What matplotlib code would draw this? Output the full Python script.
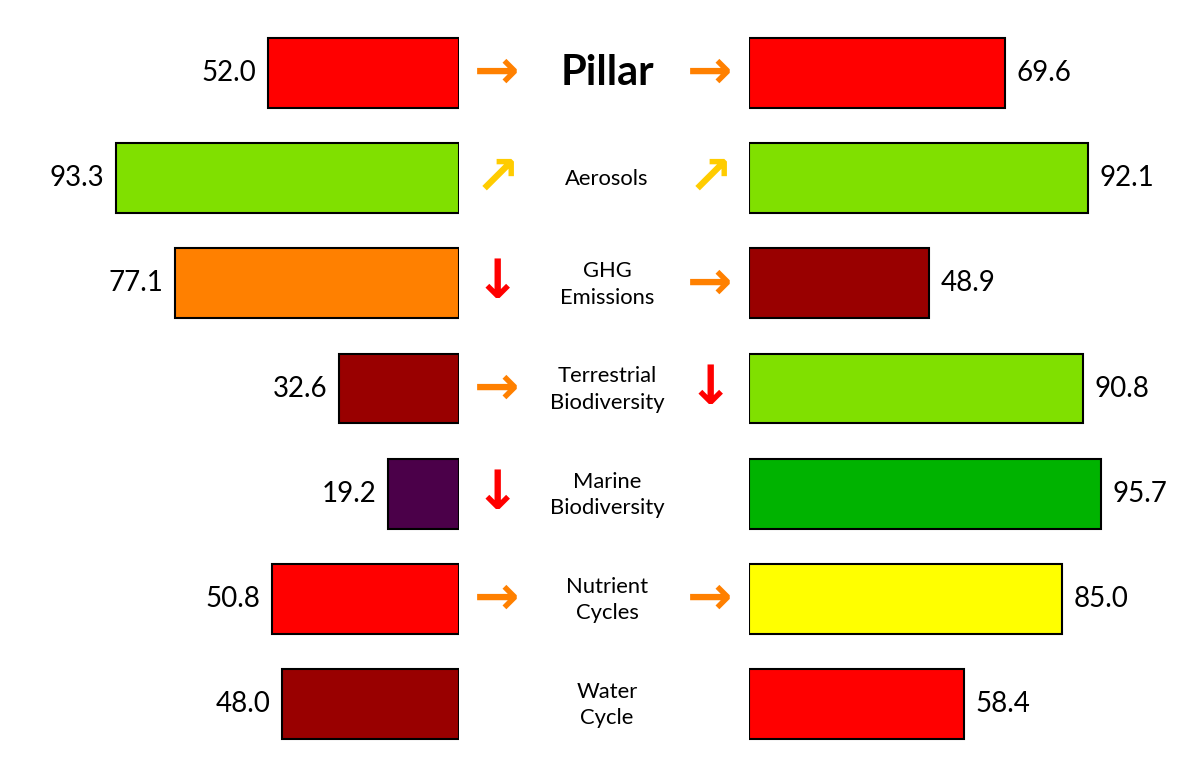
import matplotlib
matplotlib.use("Agg")
import matplotlib.pyplot as plt

plt.rcParams['font.family'] = ['Lato', 'DejaVu Sans']

# data
pillars = ['Pillar', 'Aerosols', 'GHG\nEmissions', 'Terrestrial\nBiodiversity',
           'Marine\nBiodiversity', 'Nutrient\nCycles', 'Water\nCycle']
left_vals = [52.0, 93.3, 77.1, 32.6, 19.2, 50.8, 48.0]
right_vals = [69.6, 92.1, 48.9, 90.8, 95.7, 85.0, 58.4]
left_cols = ['#ff0000', '#80e000', '#ff8000', '#990000', '#4b0049', '#ff0000', '#990000']
right_cols = ['#ff0000', '#80e000', '#990000', '#80e000', '#00b300', '#ffff00', '#ff0000']
left_trend = ['right', 'up', 'down', 'right', 'down', 'right', None]
right_trend = ['right', 'up', 'right', 'down', None, 'right', None]

glyph = {'right': '\u2192', 'up': '\u2197', 'down': '\u2193'}
gcol = {'right': '#ff8000', 'up': '#ffcc00', 'down': '#ff0000'}

W, H = 1201, 769
PX = 3.68  # pixels per unit
fig = plt.figure(figsize=(W / 100, H / 100), dpi=100)

n = len(pillars)
ytop = -73 / 105.17
ybot = (H - 73) / 105.17
rows = list(range(n))

axl = fig.add_axes([0, 0, 459 / W, 1])
axl.barh(rows, left_vals, height=0.665, color=left_cols, edgecolor='black', linewidth=1.5)
axl.set_xlim(459 / PX, 0)
axl.set_ylim(ybot, ytop)
axl.axis('off')
for i, v in enumerate(left_vals):
    axl.text(v + 3.1, i, f'{v:.1f}', ha='right', va='center', fontsize=20)

axr = fig.add_axes([749 / W, 0, (W - 749) / W, 1])
axr.barh(rows, right_vals, height=0.665, color=right_cols, edgecolor='black', linewidth=1.5)
axr.set_xlim(0, (W - 749) / PX)
axr.set_ylim(ybot, ytop)
axr.axis('off')
for i, v in enumerate(right_vals):
    axr.text(v + 3.1, i, f'{v:.1f}', ha='left', va='center', fontsize=20)

axm = fig.add_axes([459 / W, 0, 290 / W, 1])
axm.set_xlim(459, 749)
axm.set_ylim(ybot, ytop)
axm.axis('off')
for i, name in enumerate(pillars):
    if i == 0:
        axm.text(607, i, name, ha='center', va='center', fontsize=30, fontweight='bold')
    else:
        axm.text(607, i + 0.01, name, ha='center', va='center', fontsize=15.8, linespacing=1.4)
    for x, t in ((497, left_trend[i]), (710, right_trend[i])):
        if t:
            axm.text(x, i, glyph[t], ha='center', va='center', fontsize=39,
                     fontweight='bold', color=gcol[t], family='DejaVu Sans')

fig.savefig('out.png', dpi=100, facecolor='white')
